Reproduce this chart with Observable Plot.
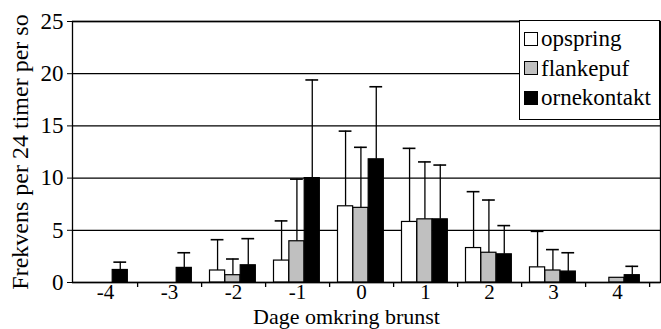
<!DOCTYPE html>
<html>
<head>
<meta charset="utf-8">
<script src="https://cdn.jsdelivr.net/npm/d3@7"></script>
<script src="https://cdn.jsdelivr.net/npm/@observablehq/plot@0.6"></script>
<style>
  body { margin: 0; background: #fff; }
  #wrap { position: relative; width: 661px; height: 329px; }
  .legend { position: absolute; left: 519px; top: 20px; width: 141px; height: 100px;
    border: 1.3px solid #000; background: #fff; box-sizing: border-box;
    font-size: 23px; color: #000; }
  .item { position: absolute; left: 4px; height: 24px; line-height: 24px; white-space: nowrap; }
  .sw { display: inline-block; width: 12px; height: 12px; border: 1.2px solid #000; vertical-align: middle; margin-right: 3px; position: relative; top: -2px; }
</style>
</head>
<body>
<div id="wrap"></div>
<script>
const days = [-4, -3, -2, -1, 0, 1, 2, 3, 4];
const series = ["opspring", "flankepuf", "ornekontakt"];
const opspring    = [0, 0, 1.15, 2.1, 7.3, 5.8, 3.3, 1.45, 0];
const opspringSD  = [0, 0, 2.95, 3.8, 7.2, 7.05, 5.4, 3.45, 0];
const flankepuf   = [0, 0, 0.7, 3.95, 7.15, 6.05, 2.85, 1.15, 0.45];
const flankepufSD = [0, 0, 1.55, 5.95, 5.8, 5.5, 5.05, 2.0, 0];
const ornekontakt   = [1.2, 1.4, 1.65, 10.0, 11.8, 6.05, 2.7, 1.05, 0.7];
const ornekontaktSD = [0.75, 1.45, 2.55, 9.4, 6.95, 5.2, 2.75, 1.8, 0.85];
const yTicks = [0, 5, 10, 15, 20, 25];
const xLabel = "Dage omkring brunst";
const yLabel = "Frekvens per 24 timer per so";

const fills = ["#ffffff", "#c0c0c0", "#000000"];
const means = [opspring, flankepuf, ornekontakt];
const sds = [opspringSD, flankepufSD, ornekontaktSD];

const rows = [];
series.forEach((s, si) => days.forEach((d, di) => {
  rows.push({day: d, series: s, si, v: means[si][di], sd: sds[si][di]});
}));

const X0 = 72, X1 = 650;
const STEP = (X1 - X0) / days.length;
const START = 8.5, BW = 15.35, CAP = 13;
const FONT = "Liberation Serif";

const marks = [];
marks.push(Plot.ruleY(yTicks, {y: d => d, stroke: "#000", strokeWidth: 1.3}));
series.forEach((s, si) => {
  const data = rows.filter(r => r.si === si);
  const left = START + si * BW;
  const right = STEP - (START + (si + 1) * BW);
  const center = left + BW / 2 - STEP / 2;
  marks.push(Plot.ruleX(data.filter(r => r.sd > 0), {
    x: "day", y1: "v", y2: r => r.v + r.sd, dx: center, stroke: "#000", strokeWidth: 1.3
  }));
  marks.push(Plot.tickY(data.filter(r => r.sd > 0), {
    x: "day", y: r => r.v + r.sd, stroke: "#000", strokeWidth: 1.6,
    insetLeft: left + BW / 2 - CAP / 2, insetRight: right + BW / 2 - CAP / 2
  }));
  marks.push(Plot.barY(data.filter(r => r.v > 0), {
    x: "day", y: "v", fill: fills[si], stroke: "#000", strokeWidth: 1.2,
    insetLeft: left, insetRight: right
  }));
});
marks.push(Plot.ruleX(days, {x: d => d, dx: STEP / 2, y1: 0, y2: 0.48, dy: 5, stroke: "#000", strokeWidth: 1.3}));
marks.push(Plot.frame({stroke: "#000", strokeWidth: 1.3}));
marks.push(Plot.text([xLabel], {frameAnchor: "bottom", textAnchor: "middle", dx: -20, dy: 41, fontSize: 22, fill: "#000"}));
marks.push(Plot.text([yLabel], {frameAnchor: "left", textAnchor: "middle", rotate: -90, dx: -52, fontSize: 24, fill: "#000"}));
marks.push(Plot.axisX({tickSize: 0, tickPadding: 2, fontSize: 21, label: null}));
marks.push(Plot.axisY({ticks: yTicks, tickSize: 5, tickPadding: 4, fontSize: 23, label: null}));

const chart = Plot.plot({
  width: 661, height: 329,
  marginLeft: 72, marginRight: 1, marginTop: 21, marginBottom: 47,
  style: {fontSize: "23px", color: "#000", background: "#fff"},
  x: {type: "band", domain: days, range: [X0, X1], padding: 0},
  y: {domain: [0, 25]},
  marks
});
chart.style.fontFamily = FONT;
chart.querySelectorAll("text").forEach(t => t.style.fontFamily = FONT);
const wrap = document.getElementById("wrap");
wrap.appendChild(chart);

const legend = document.createElement("div");
legend.className = "legend";
legend.style.fontFamily = FONT;
series.forEach((s, i) => {
  const it = document.createElement("div");
  it.className = "item";
  it.style.top = (6 + i * 29.5) + "px";
  const sw = document.createElement("span");
  sw.className = "sw";
  sw.style.background = fills[i];
  it.appendChild(sw);
  it.appendChild(document.createTextNode(s));
  legend.appendChild(it);
});
wrap.appendChild(legend);
</script>
</body>
</html>
